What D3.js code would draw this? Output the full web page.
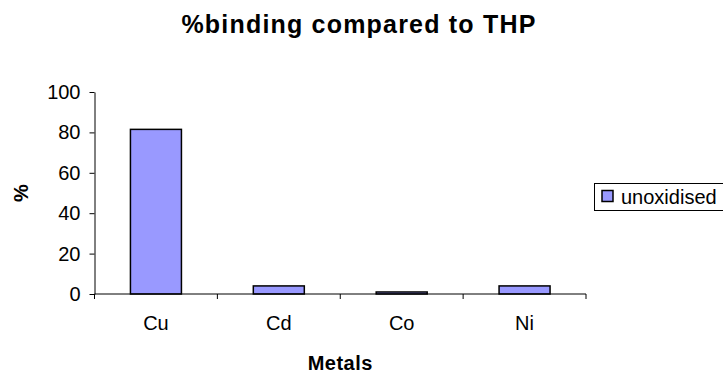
<!DOCTYPE html>
<html>
<head>
<meta charset="utf-8">
<script src="https://cdn.jsdelivr.net/npm/d3@7"></script>
<style>
  html, body { margin: 0; padding: 0; background: #fff; }
  svg { display: block; font-family: Arial, "Liberation Sans", sans-serif; }
</style>
</head>
<body>
<svg id="chart" width="723" height="379"></svg>
<script>
// Metal binding relative to THP, unoxidised series
const categories = ["Cu", "Cd", "Co", "Ni"];
const seriesName = "unoxidised";
const unoxidised = [81.5, 4, 1, 4];
const yTicks = [0, 20, 40, 60, 80, 100];

const svg = d3.select("#chart");
const plot = { left: 94.5, right: 586, top: 92, bottom: 294 };
const labelSize = 20;

const x = d3.scaleBand()
  .domain(categories)
  .range([plot.left, plot.right])
  .padding(0);

const y = d3.scaleLinear()
  .domain([0, 100])
  .range([plot.bottom, plot.top]);

const barW = x.bandwidth() * 0.415;

// Bars
svg.append("g")
  .selectAll("rect")
  .data(categories.map((c, i) => ({ c, v: unoxidised[i] })))
  .join("rect")
  .attr("x", d => x(d.c) + (x.bandwidth() - barW) / 2)
  .attr("y", d => y(d.v))
  .attr("width", barW)
  .attr("height", d => y(0) - y(d.v))
  .attr("fill", "#9999FF")
  .attr("stroke", "#000")
  .attr("stroke-width", 1.5);

// Y axis
const yAxis = svg.append("g")
  .attr("transform", `translate(${plot.left},0)`)
  .call(d3.axisLeft(y).tickValues(yTicks).tickSize(5).tickPadding(9).tickSizeOuter(0));
yAxis.select(".domain").attr("stroke", "#000");
yAxis.selectAll(".tick line").attr("stroke", "#000");
yAxis.selectAll("text")
  .attr("font-size", labelSize)
  .attr("font-family", "Arial, 'Liberation Sans', sans-serif")
  .attr("fill", "#000");

// X axis: line with ticks at category boundaries
const xg = svg.append("g").attr("transform", `translate(0,${plot.bottom})`);
xg.append("line")
  .attr("x1", plot.left).attr("x2", plot.right)
  .attr("stroke", "#000");
const bounds = categories.map(c => x(c)).concat([x(categories[categories.length - 1]) + x.bandwidth()]);
xg.selectAll("line.tk")
  .data(bounds)
  .join("line")
  .attr("class", "tk")
  .attr("x1", d => d).attr("x2", d => d)
  .attr("y1", 0).attr("y2", 5)
  .attr("stroke", "#000");
xg.selectAll("text")
  .data(categories)
  .join("text")
  .attr("x", d => x(d) + x.bandwidth() / 2)
  .attr("y", 36)
  .attr("text-anchor", "middle")
  .attr("font-size", labelSize)
  .attr("fill", "#000")
  .text(d => d);

// Titles
svg.append("text")
  .attr("x", 359).attr("y", 33)
  .attr("text-anchor", "middle")
  .attr("font-size", 25)
  .attr("font-weight", "bold")
  .attr("letter-spacing", 1.2)
  .text("%binding compared to THP");

svg.append("text")
  .attr("x", (plot.left + plot.right) / 2).attr("y", 370)
  .attr("text-anchor", "middle")
  .attr("font-size", labelSize)
  .attr("font-weight", "bold")
  .attr("letter-spacing", 0.5)
  .text("Metals");

svg.append("text")
  .attr("transform", `translate(27.5,${(plot.top + plot.bottom) / 2}) rotate(-90)`)
  .attr("text-anchor", "middle")
  .attr("font-size", labelSize)
  .attr("font-weight", "bold")
  .text("%");

// Legend
const lg = svg.append("g").attr("transform", "translate(594.5,183.5)");
lg.append("rect")
  .attr("width", 140).attr("height", 27)
  .attr("fill", "#fff").attr("stroke", "#000");
lg.append("rect")
  .attr("x", 7.5).attr("y", 7).attr("width", 11).attr("height", 11)
  .attr("fill", "#9999FF").attr("stroke", "#000").attr("stroke-width", 1.5);
lg.append("text")
  .attr("x", 26.5).attr("y", 20)
  .attr("font-size", labelSize)
  .text(seriesName);
</script>
</body>
</html>
